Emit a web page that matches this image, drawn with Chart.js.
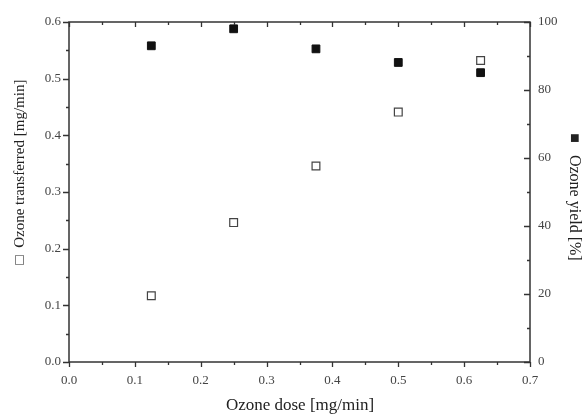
<!DOCTYPE html>
<html>
<head>
<meta charset="utf-8">
<script src="https://cdn.jsdelivr.net/npm/chart.js@4"></script>
<style>
  html, body { margin: 0; padding: 0; background: #fff; }
  #wrap { width: 584px; height: 415px; }
</style>
</head>
<body>
<div id="wrap"><canvas id="chartOzone" width="584" height="415"></canvas></div>
<script>
var doses = [0.125, 0.25, 0.375, 0.5, 0.625];
var transferred = [0.117, 0.246, 0.346, 0.441, 0.532];
var yieldPct = [93.0, 98.0, 92.1, 88.1, 85.1];
var xTicks = [0.0, 0.1, 0.2, 0.3, 0.4, 0.5, 0.6, 0.7];
var leftTicks = [0.0, 0.1, 0.2, 0.3, 0.4, 0.5, 0.6];
var rightTicks = [0, 20, 40, 60, 80, 100];

var ink = "#333";
var serif = "'Liberation Serif', 'DejaVu Serif', serif";

// tick marks + axis titles drawn by hand so they sit where the original has them
var frame = {
    id: "frame",
    afterDraw: function (chart) {
        var c = chart.ctx, a = chart.chartArea;
        var sx = chart.scales.x, sl = chart.scales.y, sr = chart.scales.y2;
        c.save();
        c.strokeStyle = ink;
        c.lineWidth = 1.3;
        c.beginPath();
        for (var v = 0; v <= 0.7001; v += 0.05) {
            var px = Math.round(sx.getPixelForValue(v)) + 0.5;
            var major = Math.abs(v * 10 - Math.round(v * 10)) < 0.01;
            var len = major ? 5 : 3;
            c.moveTo(px, a.bottom); c.lineTo(px, a.bottom + len);
            c.moveTo(px, a.top); c.lineTo(px, a.top + len);
        }
        for (var w = 0; w <= 0.6001; w += 0.05) {
            var py = Math.round(sl.getPixelForValue(w)) + 0.5;
            var maj = Math.abs(w * 10 - Math.round(w * 10)) < 0.01;
            c.moveTo(a.left, py); c.lineTo(a.left - (maj ? 6 : 3), py);
        }
        for (var r = 0; r <= 100; r += 10) {
            var ry = Math.round(sr.getPixelForValue(r)) + 0.5;
            c.moveTo(a.right, ry); c.lineTo(a.right - (r % 20 === 0 ? 6 : 3), ry);
        }
        c.stroke();
        c.lineWidth = 1.5;
        c.strokeRect(a.left, a.top, a.right - a.left, a.bottom - a.top);

        c.fillStyle = "#222";
        c.textAlign = "center";
        c.textBaseline = "middle";
        c.font = "17px " + serif;
        c.fillText("Ozone dose [mg/min]", 300, 406);

        c.save();
        c.translate(20, 172);
        c.rotate(-Math.PI / 2);
        c.font = "15px " + serif;
        c.fillText("\u25A1  Ozone transferred [mg/min]", 0, 0);
        c.restore();

        c.save();
        c.translate(574, 197);
        c.rotate(Math.PI / 2);
        c.font = "16px " + serif;
        c.fillText("\u25A0   Ozone yield [%]", 0, 0);
        c.restore();
        c.restore();
    }
};

var ctx = document.getElementById("chartOzone").getContext("2d");
var chart = new Chart(ctx, {
    type: "scatter",
    data: {
        datasets: [
            {
                label: "Ozone transferred",
                data: doses.map(function (d, i) { return { x: d, y: transferred[i] }; }),
                yAxisID: "y",
                pointStyle: "rect",
                pointRadius: 5.5,
                backgroundColor: "#fff",
                borderColor: "#444",
                borderWidth: 1.2
            },
            {
                label: "Ozone yield",
                data: doses.map(function (d, i) { return { x: d, y: yieldPct[i] }; }),
                yAxisID: "y2",
                pointStyle: "rect",
                pointRadius: 5.5,
                backgroundColor: "#111",
                borderColor: "#111",
                borderWidth: 1
            }
        ]
    },
    options: {
        responsive: false,
        animation: false,
        layout: { padding: 0 },
        plugins: { legend: { display: false }, tooltip: { enabled: false } },
        scales: {
            x: {
                type: "linear", position: "bottom", min: 0, max: 0.7,
                afterBuildTicks: function (s) { s.ticks = xTicks.map(function (v) { return { value: v }; }); },
                afterFit: function (s) { s.height = 53; },
                grid: { display: false },
                border: { display: false },
                ticks: {
                    padding: 3, color: "#444",
                    font: { family: serif, size: 13 },
                    callback: function (v) { return v.toFixed(1); }
                }
            },
            y: {
                type: "linear", position: "left", min: 0, max: 0.6,
                afterBuildTicks: function (s) { s.ticks = leftTicks.map(function (v) { return { value: v }; }); },
                afterFit: function (s) { s.width = 69; },
                grid: { display: false },
                border: { display: false },
                ticks: {
                    padding: 0, color: "#444",
                    font: { family: serif, size: 13 },
                    callback: function (v) { return v.toFixed(1); }
                }
            },
            y2: {
                type: "linear", position: "right", min: 0, max: 100,
                afterBuildTicks: function (s) { s.ticks = rightTicks.map(function (v) { return { value: v }; }); },
                afterFit: function (s) { s.width = 54; },
                grid: { display: false },
                border: { display: false },
                ticks: {
                    padding: 0, color: "#444",
                    font: { family: serif, size: 13 }
                }
            },
            xTop: {
                type: "linear", position: "top", min: 0, max: 0.7,
                afterFit: function (s) { s.height = 22; },
                grid: { display: false },
                border: { display: false },
                ticks: { display: false }
            }
        }
    },
    plugins: [frame]
});
</script>
</body>
</html>
